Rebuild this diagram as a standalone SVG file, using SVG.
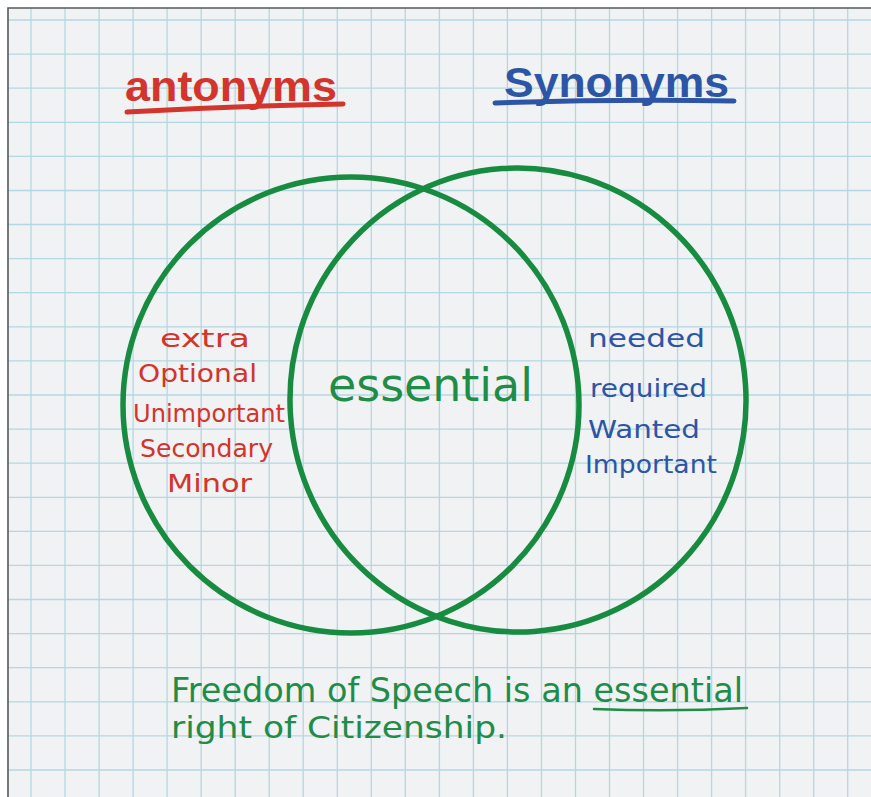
<svg xmlns="http://www.w3.org/2000/svg" width="871" height="797" viewBox="0 0 871 797">
<style>
.grid{stroke:#b4d8e3;stroke-width:1.3;fill:none}
.ring{fill:none;stroke:#178b40;stroke-width:5.5}
.hand{font-family:"DejaVu Sans","Liberation Sans",sans-serif}
.red{fill:#d3342b}
.blue{fill:#2d55a6}
.green{fill:#1f8c48}
.title{font-family:"Liberation Sans","DejaVu Sans",sans-serif;font-weight:bold;font-size:42px}
.word{font-size:25px}
.ul{fill:none;stroke-linecap:round}
</style>
<rect x="0" y="0" width="871" height="797" fill="#ffffff"/>
<rect x="8" y="8" width="863" height="789" fill="#f0f2f3"/>
<g id="grid">
<path class="grid" d="M31,8V797M65,8V797M99.1,8V797M133.1,8V797M167.1,8V797M201.2,8V797M235.2,8V797M269.2,8V797M303.2,8V797M337.3,8V797M371.3,8V797M405.3,8V797M439.4,8V797M473.4,8V797M507.4,8V797M541.5,8V797M575.5,8V797M609.5,8V797M643.5,8V797M677.6,8V797M711.6,8V797M745.6,8V797M779.7,8V797M813.7,8V797M847.7,8V797"/>
<path class="grid" d="M8,20H871M8,54.1H871M8,88.2H871M8,122.3H871M8,156.4H871M8,190.5H871M8,224.5H871M8,258.6H871M8,292.7H871M8,326.8H871M8,360.9H871M8,395H871M8,429.1H871M8,463.2H871M8,497.3H871M8,531.4H871M8,565.4H871M8,599.5H871M8,633.6H871M8,667.7H871M8,701.8H871M8,735.9H871M8,770H871"/>
</g>
<path d="M8,797V8H871" fill="none" stroke="#555a5e" stroke-width="1.6"/>
<g id="title-antonyms">
<text class="title red" x="125" y="101" textLength="212" lengthAdjust="spacingAndGlyphs">antonyms</text>
<path class="ul" stroke="#d3342b" stroke-width="5" d="M127,112 Q235,106 343,104"/>
</g>
<g id="title-synonyms">
<text class="title blue" x="504" y="97" textLength="225" lengthAdjust="spacingAndGlyphs">Synonyms</text>
<path class="ul" stroke="#2d55a6" stroke-width="5" d="M495,103 Q615,99 734,101"/>
</g>
<g id="circle-antonyms">
<ellipse class="ring" cx="351" cy="405" rx="228" ry="228"/>
</g>
<g id="circle-synonyms">
<ellipse class="ring" cx="518" cy="400" rx="228" ry="232" transform="rotate(-4 518 400)"/>
</g>
<g id="antonyms-list">
<text class="hand word red" x="160" y="347" textLength="90" lengthAdjust="spacingAndGlyphs">extra</text>
<text class="hand word red" x="138" y="382" textLength="119" lengthAdjust="spacingAndGlyphs">Optional</text>
<text class="hand word red" x="133" y="422" textLength="152" lengthAdjust="spacingAndGlyphs">Unimportant</text>
<text class="hand word red" x="140" y="457" textLength="133" lengthAdjust="spacingAndGlyphs">Secondary</text>
<text class="hand word red" x="167" y="492" textLength="85" lengthAdjust="spacingAndGlyphs">Minor</text>
</g>
<g id="overlap">
<text class="hand green" x="328" y="401" font-size="46" textLength="205" lengthAdjust="spacingAndGlyphs">essential</text>
</g>
<g id="synonyms-list">
<text class="hand word blue" x="588" y="347" textLength="117" lengthAdjust="spacingAndGlyphs">needed</text>
<text class="hand word blue" x="590" y="397" textLength="117" lengthAdjust="spacingAndGlyphs">required</text>
<text class="hand word blue" x="588" y="438" textLength="112" lengthAdjust="spacingAndGlyphs">Wanted</text>
<text class="hand word blue" x="585" y="473" textLength="132" lengthAdjust="spacingAndGlyphs">Important</text>
</g>
<g id="sentence">
<text class="hand green" x="171" y="702" font-size="34" textLength="572" lengthAdjust="spacingAndGlyphs">Freedom of Speech is an essential</text>
<path class="ul" stroke="#1f8c48" stroke-width="2.5" d="M594,709 Q670,712 747,708"/>
<text class="hand green" x="171" y="738" font-size="30" textLength="336" lengthAdjust="spacingAndGlyphs">right of Citizenship.</text>
</g>
</svg>
